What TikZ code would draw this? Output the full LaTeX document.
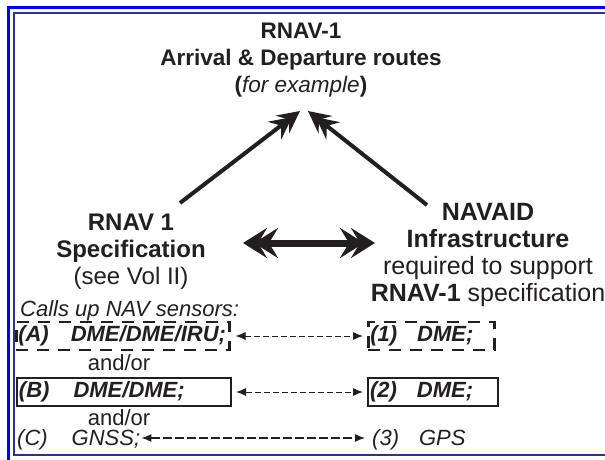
\documentclass[tikz,border=0pt]{standalone}
\usepackage{fontspec}
\setmainfont{Liberation Sans}
\usetikzlibrary{arrows.meta}
\definecolor{ink}{HTML}{231F20}
\definecolor{outerblue}{HTML}{0000FF}
\definecolor{innernavy}{HTML}{2E3192}
\newcommand{\headfont}{\fontsize{24}{27}\selectfont}
\newcommand{\rightfont}{\fontsize{25}{27}\selectfont}
\newcommand{\titlefont}{\fontsize{22.5}{27}\selectfont}
\newcommand{\listfont}{\fontsize{22}{26}\selectfont}
\tikzset{
  bigtip/.tip={Stealth[length=24pt,width=30pt,inset=9pt,sep=-13pt]Stealth[length=24pt,width=30pt,inset=9pt]},
  diagtip/.tip={Stealth[length=22pt,width=22pt,inset=8pt,sep=-12pt]Stealth[length=22pt,width=22pt,inset=8pt]},
  smalltip/.tip={Latex[length=10pt,width=8pt]},
  headtext/.style={align=center, text=ink, font=\headfont, inner sep=0pt},
  sensorbox/.style={anchor=west, minimum height=28pt, inner xsep=2pt, inner ysep=0pt, align=left, text=ink, font=\listfont\bfseries\itshape},
  dashbox/.style={draw=ink, line width=2.5pt, dash pattern=on 12pt off 9pt},
  solidbox/.style={draw=ink, line width=2pt},
  plainitem/.style={anchor=west, inner sep=0pt, text=ink, font=\listfont\itshape},
  link/.style={draw=ink, line width=1pt, dash pattern=on 6pt off 3pt, smalltip-smalltip},
  longlink/.style={draw=ink, line width=1.2pt, dash pattern=on 9pt off 3pt, smalltip-smalltip},
  bigarrow/.style={draw=ink, line width=7pt, bigtip-bigtip},
  diagarrow/.style={draw=ink, line width=4pt, -diagtip},
}
\begin{document}
\begin{tikzpicture}[x=1pt,y=-1pt]
\useasboundingbox (0,0) rectangle (605,460);
\fill[white] (0,0) rectangle (605,460);
% borders
\draw[outerblue, line width=2.5pt] (607,7.5) -- (8.5,7.5) -- (8.5,462);
\draw[innernavy, line width=2.5pt] (607,13) -- (14,13) -- (14,455) -- (607,455);

% title
\node[headtext, font=\titlefont] (goal) at (301,60)
  {\textbf{RNAV-1}\\\textbf{Arrival \& Departure routes}\\\textbf{(}\textit{for example}\textbf{)}};

% left block
\node[headtext] (spec) at (131,252)
  {\textbf{RNAV 1}\\\textbf{Specification}\\(see Vol II)};

% right block
\node[headtext, font=\rightfont] (navaid) at (488,255)
  {\textbf{NAVAID}\\\textbf{Infrastructure}\\required to support\\\textbf{RNAV-1} specification};

% big arrows
\coordinate (specTop) at (180,203);
\coordinate (navTop) at (427,205);
\coordinate (goalL) at (300,111);
\coordinate (goalR) at (308,111);
\draw[diagarrow] (specTop) -- (goalL);
\draw[diagarrow] (navTop) -- (goalR);
\coordinate (specR) at (243,243);
\coordinate (navL) at (375,243);
\draw[bigarrow] (specR) -- (navL);

% sensors list
\node[plainitem] (calls) at (20,311) {Calls up NAV sensors:};
\node[sensorbox, dashbox, text width=209pt] (A) at (15,336) {\mbox{(A)\hspace{22pt}DME/DME/IRU;}};
\node[headtext, font=\listfont] (andor1) at (119,363) {and/or};
\node[sensorbox, solidbox, text width=210pt] (B) at (16,392) {\mbox{(B)\hspace{24pt}DME/DME;}};
\node[headtext, font=\listfont] (andor2) at (119,418) {and/or};
\node[plainitem, font=\listfont\itshape] (C) at (17,440) {(C)\hspace{24pt}GNSS;};

% navaid list
\node[sensorbox, dashbox, text width=122pt] (one) at (367,336) {\mbox{(1)\hspace{20pt}DME;}};
\node[sensorbox, solidbox, text width=126pt] (two) at (367,392) {\mbox{(2)\hspace{20pt}DME;}};
\node[plainitem] (three) at (372,440) {(3)\hspace{20pt}GPS};

% links
\draw[link] ([xshift=5pt]A.east) -- ([xshift=-4pt]one.west);
\draw[link] ([xshift=4pt]B.east) -- ([xshift=-4pt]two.west);
\draw[longlink] ([xshift=1pt,yshift=2pt]C.east) -- ([xshift=-7pt,yshift=2pt]three.west);
\end{tikzpicture}
\end{document}
